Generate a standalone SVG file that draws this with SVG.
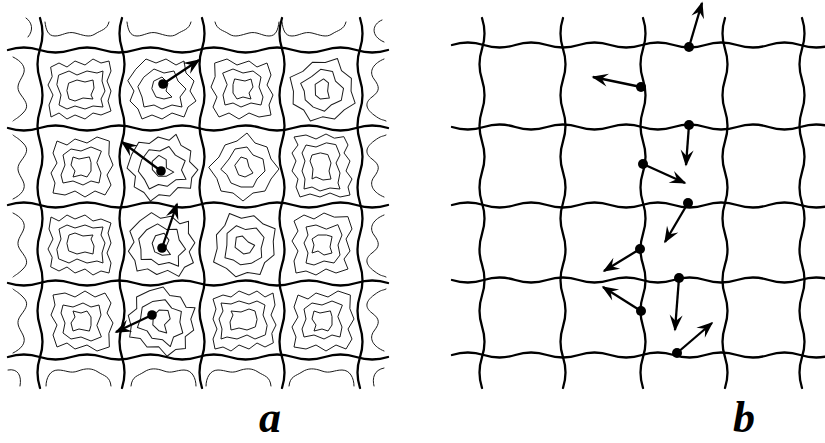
<svg xmlns="http://www.w3.org/2000/svg" xmlns:xlink="http://www.w3.org/1999/xlink" width="825" height="443" viewBox="0 0 825 443">
<style>
.grid{fill:none;stroke:#000;stroke-width:2.3;stroke-linecap:round}
.ct{fill:none;stroke:#1a1a1a;stroke-width:1;stroke-linejoin:round;stroke-linecap:round}
.arr{fill:none;stroke:#000;stroke-width:2.3;marker-end:url(#ah)}
.dot{fill:#000}
.lbl{font-family:"Liberation Serif","Times New Roman",serif;font-weight:bold;font-style:italic;font-size:44px;fill:#000}
</style>
<defs>
<marker id="ah" viewBox="-17 -7 19 14" refX="0" refY="0" markerWidth="19" markerHeight="14" markerUnits="userSpaceOnUse" orient="auto">
<path d="M1.5,0 L-15,-6.5 L-9,0 L-15,6.5 Z" fill="#000"/>
</marker>
<path id="va" class="grid" d="M0,18 Q5,33.4 0,48.8 T0,79.7 T0,110.5 T0,141.3 T0,172.2 T0,203 T0,233.8 T0,264.7 T0,295.5 T0,326.3 T0,357.2 T0,388"/>
<path id="ha" class="grid" d="M8,0 Q23.8,-5 39.7,0 T71.3,0 T103,0 T134.7,0 T166.3,0 T198,0 T229.7,0 T261.3,0 T293,0 T324.7,0 T356.3,0 T388,0"/>
<g id="cA" class="ct">
<polygon points="-30,-22 -22,-26 -14,-22 -6,-28 4,-24 12,-30 20,-26 28,-28 30,-18 26,-8 30,2 27,12 30,22 20,26 12,24 4,30 -6,26 -14,30 -22,24 -30,28 -32,16 -28,6 -33,-4 -29,-12"/>
<polygon points="-22,-14 -12,-18 -4,-14 6,-18 16,-16 22,-18 21,-8 24,2 20,10 22,18 12,17 4,20 -6,17 -14,20 -22,16 -20,6 -24,-4"/>
<polygon points="-12,-6 -4,-9 4,-7 12,-9 13,-1 10,6 12,10 2,9 -6,12 -12,10 -14,2"/>
</g>
<g id="cB" class="ct">
<polygon points="-26,-20 -16,-30 -6,-26 4,-30 14,-24 22,-28 24,-16 32,-8 28,2 34,12 26,18 22,28 10,24 0,30 -10,26 -20,30 -24,20 -32,12 -28,2 -34,-8"/>
<polygon points="-18,-12 -8,-20 2,-16 12,-18 16,-8 24,0 18,8 20,18 10,16 0,20 -8,16 -18,18 -20,8 -24,-2"/>
<polygon points="-8,-8 0,-12 6,-6 4,2 10,8 2,10 -6,8 -10,0"/>
</g>
<g id="cC" class="ct">
<polygon points="-28,-26 -16,-30 -6,-24 6,-28 14,-22 24,-26 28,-14 24,-4 30,6 26,16 28,26 16,28 6,24 -4,30 -14,24 -24,28 -30,18 -26,8 -32,-2 -28,-12"/>
<polygon points="-20,-16 -10,-20 0,-16 10,-18 18,-12 16,-2 20,8 18,16 8,14 -2,18 -10,14 -18,16 -20,6 -16,-4"/>
<polygon points="-8,-10 2,-8 8,-10 10,-2 6,4 8,10 0,8 -6,10 -10,4 -10,-4"/>
</g>
<g id="cD" class="ct">
<polygon points="-34,0 -24,-10 -18,-22 -6,-26 4,-34 12,-24 24,-20 28,-8 36,2 28,12 22,24 10,26 0,34 -10,26 -22,24 -26,12"/>
<polygon points="-22,2 -14,-8 -8,-18 4,-20 10,-12 20,-8 22,4 14,12 10,20 -2,20 -12,16 -16,8"/>
<polygon points="-8,-2 -2,-10 4,-8 6,0 10,6 2,10 -4,8"/>
</g>
<path id="eT" class="ct" d="M-36,2 C-35,10 -33,16 -26,16 S-14,11 -6,13 S8,18 14,14 S26,10 28,2"/>
<path id="eB" class="ct" d="M-34,-2 C-34,-10 -30,-18 -22,-18 S-10,-14 -2,-17 S12,-20 18,-16 S30,-12 31,-2"/>
<path id="eL" class="ct" d="M4,-32 C12,-28 18,-22 14,-14 S6,-2 12,6 S20,18 14,24 S6,30 4,32"/>
<path id="eR" class="ct" d="M-4,-30 C-14,-26 -20,-18 -14,-10 S-8,2 -16,8 S-22,20 -14,26 S-6,30 -2,32"/>
</defs>

<g id="panel-a">
<g id="a-contours">
<use xlink:href="#cA" transform="translate(81,89)"/>
<use xlink:href="#cB" transform="translate(162,89)"/>
<use xlink:href="#cC" transform="translate(243,89)"/>
<use xlink:href="#cD" transform="translate(322,89) rotate(20)"/>
<use xlink:href="#cC" transform="translate(81,167) scale(-1,1)"/>
<use xlink:href="#cB" transform="translate(162,167) rotate(-15)"/>
<use xlink:href="#cD" transform="translate(243,167)"/>
<use xlink:href="#cA" transform="translate(322,167) rotate(90)"/>
<use xlink:href="#cA" transform="translate(81,245) scale(1,-1)"/>
<use xlink:href="#cB" transform="translate(162,245) rotate(10)"/>
<use xlink:href="#cD" transform="translate(243,245) rotate(-30)"/>
<use xlink:href="#cC" transform="translate(322,245) rotate(90)"/>
<use xlink:href="#cC" transform="translate(81,321) rotate(180)"/>
<use xlink:href="#cB" transform="translate(162,321) rotate(30)"/>
<use xlink:href="#cA" transform="translate(243,321) rotate(180)"/>
<use xlink:href="#cC" transform="translate(322,321) scale(-1,1)"/>
<use xlink:href="#eT" transform="translate(81,20)"/>
<use xlink:href="#eT" transform="translate(163,20)"/>
<use xlink:href="#eT" transform="translate(243,20) scale(-1,1)"/>
<use xlink:href="#eT" transform="translate(318,20)"/>
<use xlink:href="#eB" transform="translate(80,388)"/>
<use xlink:href="#eB" transform="translate(162,388) scale(-1,1)"/>
<use xlink:href="#eB" transform="translate(240,388)"/>
<use xlink:href="#eB" transform="translate(320,388) scale(-1,1)"/>
<use xlink:href="#eL" transform="translate(9,89)"/>
<use xlink:href="#eL" transform="translate(9,167) scale(1,-1)"/>
<use xlink:href="#eL" transform="translate(9,245)"/>
<use xlink:href="#eL" transform="translate(9,321) scale(1,-1)"/>
<use xlink:href="#eR" transform="translate(388,89)"/>
<use xlink:href="#eR" transform="translate(388,167) scale(1,-1)"/>
<use xlink:href="#eR" transform="translate(388,245)"/>
<use xlink:href="#eR" transform="translate(388,321) scale(1,-1)"/>
<path class="ct" d="M26,18 C32,22 34,30 28,37"/>
<path class="ct" d="M382,20 C372,24 370,36 384,42"/>
<path class="ct" d="M8,370 C18,368 22,376 20,386"/>
<path class="ct" d="M384,368 C374,370 372,378 374,386"/>
</g>
<g id="a-grid">
<use xlink:href="#va" x="40"/>
<use xlink:href="#va" transform="translate(122,0) scale(-1,1)"/>
<use xlink:href="#va" x="202"/>
<use xlink:href="#va" transform="translate(282,0) scale(-1,1)"/>
<use xlink:href="#va" x="360"/>
<use xlink:href="#ha" y="50"/>
<use xlink:href="#ha" transform="translate(0,128) scale(1,-1)"/>
<use xlink:href="#ha" y="205"/>
<use xlink:href="#ha" transform="translate(0,283) scale(1,-1)"/>
<use xlink:href="#ha" y="357"/>
</g>
<g id="a-arrows">
<line class="arr" x1="163" y1="84" x2="199" y2="60"/>
<line class="arr" x1="161" y1="171" x2="122" y2="142"/>
<line class="arr" x1="162" y1="248" x2="177" y2="204"/>
<line class="arr" x1="152" y1="315" x2="116" y2="332"/>
<circle class="dot" cx="163" cy="84" r="4.8"/>
<circle class="dot" cx="161" cy="171" r="4.8"/>
<circle class="dot" cx="162" cy="248" r="4.8"/>
<circle class="dot" cx="152" cy="315" r="4.8"/>
</g>
<text class="lbl" x="270" y="432" text-anchor="middle">a</text>
</g>

<g id="panel-b">
<g id="b-grid">
<use xlink:href="#va" x="482"/>
<use xlink:href="#va" transform="translate(563,0) scale(-1,1)"/>
<use xlink:href="#va" x="643"/>
<use xlink:href="#va" transform="translate(725,0) scale(-1,1)"/>
<use xlink:href="#va" x="802"/>
<use xlink:href="#ha" transform="translate(444,45)"/>
<use xlink:href="#ha" transform="translate(444,127) scale(1,-1)"/>
<use xlink:href="#ha" transform="translate(444,205)"/>
<use xlink:href="#ha" transform="translate(444,280) scale(1,-1)"/>
<use xlink:href="#ha" transform="translate(444,355)"/>
</g>
<g id="b-arrows">
<line class="arr" x1="689" y1="47" x2="702" y2="3"/>
<line class="arr" x1="641" y1="87" x2="593" y2="77"/>
<line class="arr" x1="689" y1="125" x2="686" y2="165"/>
<line class="arr" x1="643" y1="164" x2="685" y2="183"/>
<line class="arr" x1="688" y1="203" x2="665" y2="242"/>
<line class="arr" x1="640" y1="249" x2="604" y2="271"/>
<line class="arr" x1="679" y1="278" x2="675" y2="330"/>
<line class="arr" x1="641" y1="311" x2="603" y2="287"/>
<line class="arr" x1="677" y1="353" x2="712" y2="323"/>
<circle class="dot" cx="689" cy="47" r="5"/>
<circle class="dot" cx="641" cy="87" r="5"/>
<circle class="dot" cx="689" cy="125" r="5"/>
<circle class="dot" cx="643" cy="164" r="5"/>
<circle class="dot" cx="688" cy="203" r="5"/>
<circle class="dot" cx="640" cy="249" r="5"/>
<circle class="dot" cx="679" cy="278" r="5"/>
<circle class="dot" cx="641" cy="311" r="5"/>
<circle class="dot" cx="677" cy="353" r="5"/>
</g>
<text class="lbl" x="744" y="432" text-anchor="middle">b</text>
</g>
</svg>
